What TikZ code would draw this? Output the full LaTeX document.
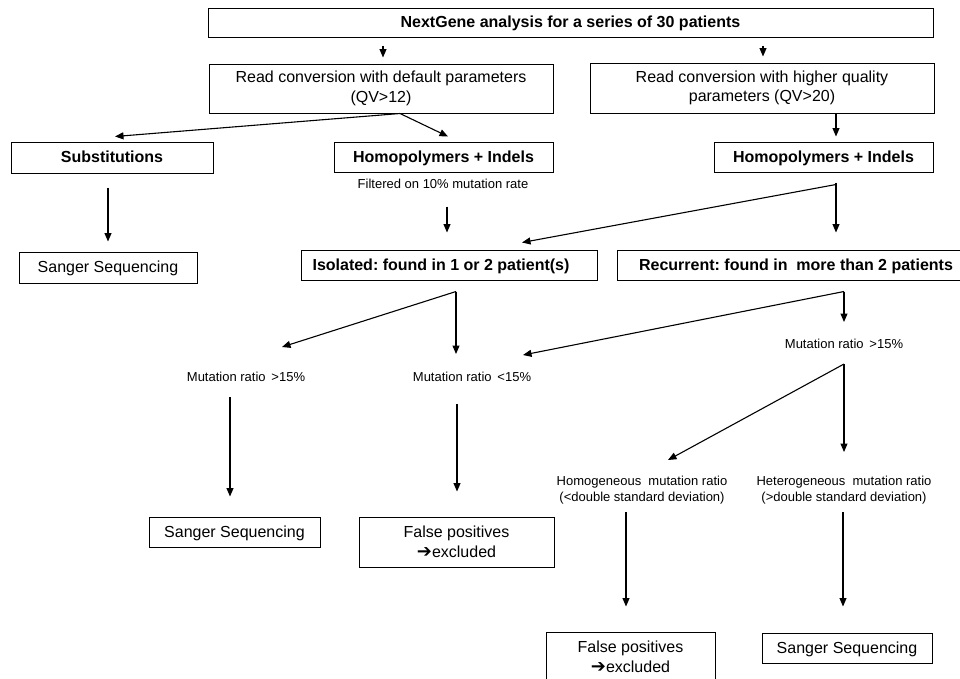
\documentclass[tikz,border=0pt]{standalone}
\usepackage{fontspec}
\setmainfont{Liberation Sans}
\newfontfamily\dejavu{DejaVu Sans}
\usetikzlibrary{arrows.meta}
\frenchspacing
\tikzset{
  box/.style={draw, line width=1pt, inner sep=0pt, align=center},
  one/.style={text height=11.5pt, text depth=1pt},
  bigb/.style={font=\fontsize{16}{19}\selectfont\bfseries},
  bigr/.style={font=\fontsize{16}{19.5}\selectfont},
  lbl/.style={inner sep=0pt, align=center, font=\fontsize{13}{16}\selectfont},
  arr/.style={line width=1.1pt, -{Triangle[length=8.5pt,width=7pt]}},
  ln/.style={line width=1.1pt}
}
\newcommand{\heavyarr}{{\dejavu\fontsize{18}{16}\selectfont ➔}}
\begin{document}
\begin{tikzpicture}[x=1pt,y=-1pt]
\useasboundingbox (0,0) rectangle (960,678);
\clip (0,0) rectangle (960,678);
% boxes
\node[box,one,bigb,minimum width=725pt,minimum height=29pt] (top) at (570.5,22.5) {NextGene analysis for a series of 30 patients};
\node[box,bigr,minimum width=344pt,minimum height=49pt] (rc1) at (381,88.5) {Read conversion with default parameters\\(QV>12)};
\node[box,bigr,minimum width=344pt,minimum height=50pt] (rc2) at (762,88) {Read conversion with higher quality\\parameters (QV>20)};
\node[box,one,bigb,minimum width=202pt,minimum height=31pt] (sub) at (112,157.5) {Substitutions};
\node[box,one,bigb,minimum width=219pt,minimum height=30pt] (hom1) at (443.5,157) {Homopolymers + Indels};
\node[box,one,bigb,minimum width=219pt,minimum height=30pt] (hom2) at (823.5,157) {Homopolymers + Indels};
\node[lbl] (filt) at (443,184) {Filtered on 10\% mutation rate};
\node[box,one,bigr,minimum width=178pt,minimum height=31pt] (san1) at (108,267.5) {Sanger Sequencing};
\node[box,one,bigb,minimum width=296pt,minimum height=30pt] (iso) at (449,265) {Isolated: found in 1 or 2 patient(s)\hspace*{16pt}};
\node[box,one,bigb,minimum width=358pt,minimum height=30pt] (rec) at (796,265) {Recurrent: found in \ more than 2 patients};
\node[lbl] (mr1) at (246,377) {Mutation ratio \,>15\%};
\node[lbl] (mr2) at (472,377) {Mutation ratio \,<15\%};
\node[lbl] (mr3) at (844,344) {Mutation ratio \,>15\%};
\node[lbl] (homog) at (642,490) {Homogeneous \ mutation ratio\\(<double standard deviation)};
\node[lbl] (heterog) at (844,490) {Heterogeneous \ mutation ratio\\(>double standard deviation)};
\node[box,one,bigr,minimum width=171pt,minimum height=30pt] (san2) at (234.5,532) {Sanger Sequencing};
\node[box,bigr,minimum width=195pt,minimum height=50pt] (fp1) at (456.5,542) {False positives\\\heavyarr excluded};
\node[box,bigr,minimum width=169pt,minimum height=50pt] (fp2) at (630.5,657) {False positives\\\heavyarr excluded};
\node[box,one,bigr,minimum width=170pt,minimum height=30pt] (san3) at (847,648) {Sanger Sequencing};
% split points
\coordinate (h2) at ([xshift=12.5pt,yshift=-12pt]hom2.south);
\coordinate (i1) at ([xshift=7pt,yshift=-11pt]iso.south);
\coordinate (r1) at ([xshift=48pt,yshift=-11pt]rec.south);
\coordinate (m1) at ([yshift=-20pt]mr3.center);
% connectors
\draw[arr] ([xshift=-187.5pt,yshift=-8pt]top.south) -- ([xshift=2pt,yshift=6pt]rc1.north);
\draw[arr] ([xshift=192.5pt,yshift=-8pt]top.south) -- ([xshift=1pt,yshift=6pt]rc2.north);
\draw[arr] ([xshift=19pt]rc1.south) -- ([xshift=3pt,yshift=5pt]sub.north);
\draw[arr] ([xshift=19pt]rc1.south) -- ([xshift=4.5pt,yshift=5pt]hom1.north);
\draw[arr] ([xshift=74pt]rc2.south) -- ([xshift=12.5pt,yshift=5pt]hom2.north);
\draw[arr] ([xshift=-4pt,yshift=-14pt]sub.south) -- ([yshift=10pt]san1.north);
\draw[arr] ([xshift=3.5pt,yshift=-34pt]hom1.south) -- ([xshift=-2pt,yshift=17pt]iso.north);
\draw[ln] ([yshift=2pt]h2) -- (h2);
\draw[arr] (h2) -- ([xshift=73pt,yshift=7pt]iso.north);
\draw[arr] (h2) -- ([xshift=40pt,yshift=17pt]rec.north);
\draw[arr] (i1) -- ([xshift=36pt,yshift=30pt]mr1.center);
\draw[arr] (i1) -- ([xshift=-16pt,yshift=23pt]mr2.center);
\draw[arr] (r1) -- ([xshift=51pt,yshift=22pt]mr2.center);
\draw[arr] (r1) -- ([yshift=22pt]mr3.center);
\draw[arr] (m1) -- ([xshift=26pt,yshift=30pt]homog.center);
\draw[arr] (m1) -- ([yshift=38pt]heterog.center);
\draw[arr] ([xshift=-16pt,yshift=-20pt]mr1.center) -- ([xshift=-4.5pt,yshift=20pt]san2.north);
\draw[arr] ([xshift=-15pt,yshift=-27pt]mr2.center) -- ([xshift=0.5pt,yshift=25pt]fp1.north);
\draw[arr] ([xshift=-16pt,yshift=-22pt]homog.center) -- ([xshift=-4.5pt,yshift=25pt]fp2.north);
\draw[arr] ([xshift=-1pt,yshift=-22pt]heterog.center) -- ([xshift=-4pt,yshift=26pt]san3.north);
\end{tikzpicture}
\end{document}
